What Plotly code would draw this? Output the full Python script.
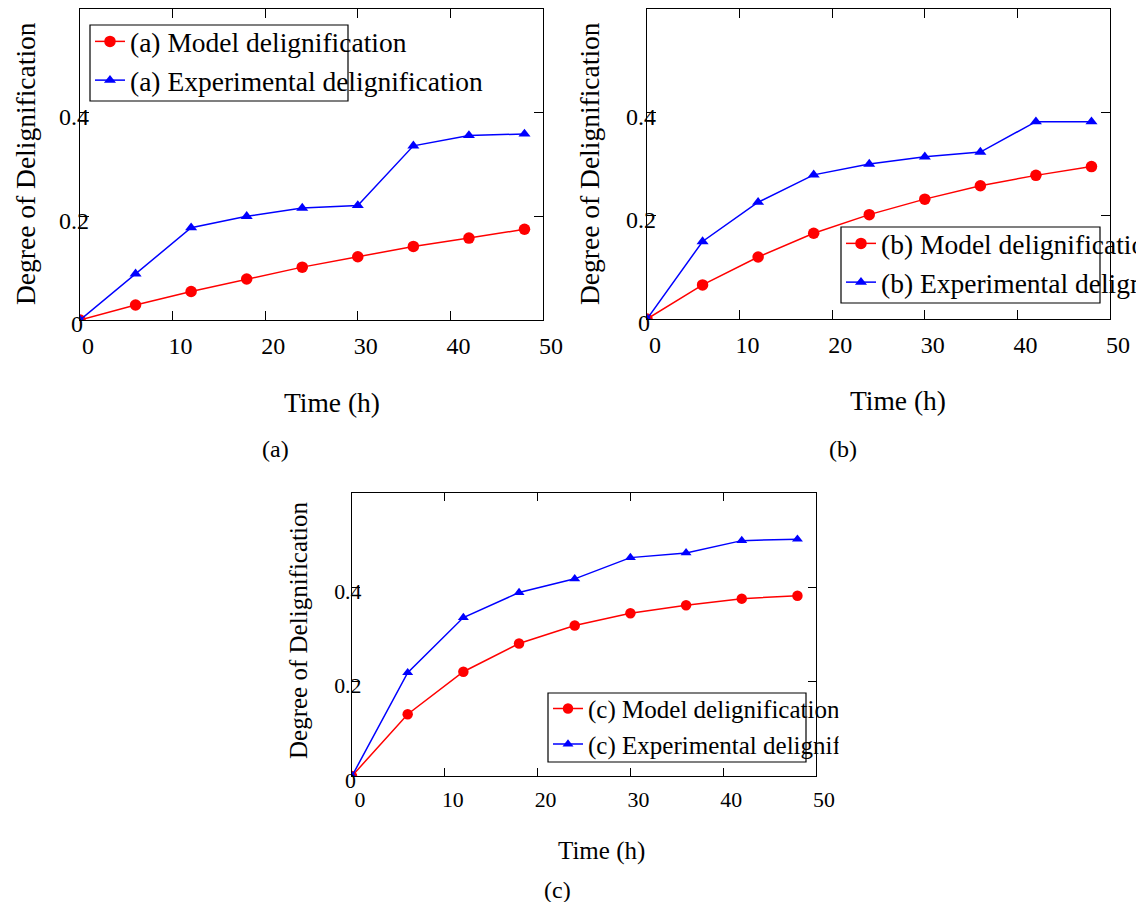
import plotly.graph_objects as go

# ---------------- data ----------------
time_h = [0, 6, 12, 18, 24, 30, 36, 42, 48]

model_a = [0, 0.029, 0.055, 0.079, 0.102, 0.122, 0.142, 0.158, 0.175]
exp_a = [0, 0.089, 0.178, 0.200, 0.216, 0.221, 0.336, 0.356, 0.359]

model_b = [0, 0.066, 0.120, 0.166, 0.202, 0.232, 0.258, 0.278, 0.295]
exp_b = [0, 0.150, 0.226, 0.279, 0.300, 0.314, 0.323, 0.382, 0.382]

model_c = [0, 0.131, 0.221, 0.281, 0.319, 0.345, 0.362, 0.376, 0.382]
exp_c = [0, 0.219, 0.336, 0.389, 0.418, 0.463, 0.473, 0.499, 0.502]

x_ticks = [0, 10, 20, 30, 40, 50]
y_ticks = [0, 0.2, 0.4]
y_tick_text = ["0\u00a0", "0.2", "0.4"]

panel_labels = ["(a)", "(b)", "(c)"]
x_title = "Time (h)"
y_title = "Degree of Delignification"

# ---------------- layout helpers ----------------
W, H = 1136, 902
FONT = "Liberation Serif"


def px_x(p):
    return p / W


def px_y(p):
    return (H - p) / H


# pixel boxes of plot areas: (left, right, top, bottom), scale factor
panels = [
    dict(box=(80, 543, 9, 320), s=1.0, model=model_a, exp=exp_a,
         leg=(90, 348, 25, 101), xt=(332, 402), yt=(26, 164), cap=(275, 449)),
    dict(box=(647, 1110, 9, 319), s=1.0, model=model_b, exp=exp_b,
         leg=(841, 1100, 227, 303), xt=(898, 400), yt=(590, 164), cap=(843, 449)),
    dict(box=(352, 816, 493, 776), s=0.91, model=model_c, exp=exp_c,
         leg=(548, 806, 693, 762), xt=(601, 851), yt=(298, 631), cap=(557, 890)),
]

fig = go.Figure()
annotations = []
shapes = []

for i, p in enumerate(panels):
    n = "" if i == 0 else str(i + 1)
    lab = panel_labels[i]
    s = p["s"]
    legname = "legend" if i == 0 else f"legend{i + 1}"
    fig.add_trace(go.Scatter(
        x=time_h, y=p["model"], mode="lines+markers",
        name=f"{lab} Model delignification",
        line=dict(color="#ff0000", width=1.5),
        marker=dict(symbol="circle", size=11.5 * s, color="#ff0000"),
        xaxis=f"x{n}", yaxis=f"y{n}", legend=legname,
    ))
    fig.add_trace(go.Scatter(
        x=time_h, y=p["exp"], mode="lines+markers",
        name=f"{lab} Experimental delignification",
        line=dict(color="#0000ff", width=1.5),
        marker=dict(symbol="triangle-up", size=10.5 * s, color="#0000ff"),
        xaxis=f"x{n}", yaxis=f"y{n}", legend=legname,
    ))

    l, r, t, b = p["box"]
    tick_font = dict(family=FONT, size=24 * s, color="black")
    common = dict(showline=True, linecolor="black", linewidth=1.3, mirror="ticks",
                  ticks="inside", ticklen=9 * s, tickcolor="black", tickwidth=1.2,
                  showgrid=False, zeroline=False, tickfont=tick_font)
    fig.update_layout(**{
        f"xaxis{n}": dict(domain=[px_x(l), px_x(r)], range=[0, 50],
                          tickvals=x_ticks, anchor=f"y{n}",
                          ticklabelshift=8, ticklabelstandoff=4, **common),
        f"yaxis{n}": dict(domain=[px_y(b), px_y(t)], range=[0, 0.6],
                          tickvals=y_ticks, ticktext=y_tick_text, anchor=f"x{n}",
                          ticklabelshift=4, ticklabelstandoff=-15, **common),
    })

    ll, lr, lt, lb = p["leg"]
    fig.update_layout(**{
        legname: dict(x=px_x(ll), y=px_y(lt - 8 * s), xanchor="left", yanchor="top",
                      bgcolor="rgba(0,0,0,0)", borderwidth=0,
                      font=dict(family=FONT, size=27.5 * s, color="black"),
                      tracegroupgap=0, itemwidth=30),
    })
    shapes.append(dict(type="rect", xref="paper", yref="paper",
                       x0=px_x(ll), x1=px_x(lr), y0=px_y(lb), y1=px_y(lt),
                       line=dict(color="black", width=1.2), fillcolor="rgba(0,0,0,0)"))

    annotations.append(dict(text=x_title, xref="paper", yref="paper",
                            x=px_x(p["xt"][0]), y=px_y(p["xt"][1]),
                            xanchor="center", yanchor="middle", showarrow=False,
                            font=dict(family=FONT, size=27.5 * s, color="black")))
    annotations.append(dict(text=y_title, xref="paper", yref="paper",
                            x=px_x(p["yt"][0]), y=px_y(p["yt"][1]), textangle=-90,
                            xanchor="center", yanchor="middle", showarrow=False,
                            font=dict(family=FONT, size=27.5 * s, color="black")))
    annotations.append(dict(text=lab, xref="paper", yref="paper",
                            x=px_x(p["cap"][0]), y=px_y(p["cap"][1]),
                            xanchor="center", yanchor="middle", showarrow=False,
                            font=dict(family=FONT, size=24, color="black")))

# the (c) sub-figure is cropped at its right side in the reference: white mask
annotations.append(dict(text=" ", xref="paper", yref="paper",
                        x=px_x(838), y=px_y(727), xanchor="left", yanchor="middle",
                        width=140, height=80, bgcolor="white", borderpad=0,
                        showarrow=False, font=dict(size=4)))

fig.update_layout(
    width=W, height=H,
    margin=dict(l=0, r=0, t=0, b=0, autoexpand=False),
    paper_bgcolor="white", plot_bgcolor="white",
    font=dict(family=FONT, color="black"),
    showlegend=True,
    annotations=annotations, shapes=shapes,
)

fig.write_html("out.html", config={"displayModeBar": False},
               post_script="document.body.style.margin='0';document.body.style.padding='0';")
